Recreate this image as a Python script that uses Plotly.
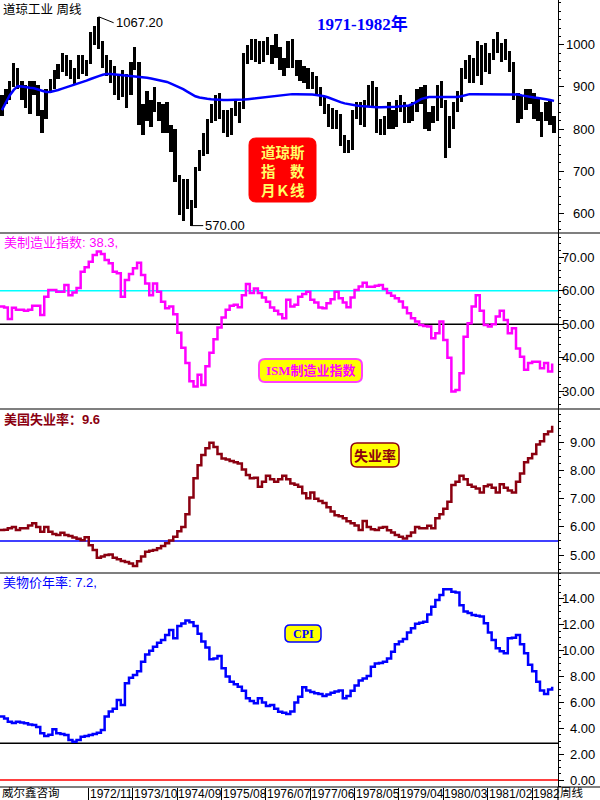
import pandas as pd
import plotly.graph_objects as go
from plotly.subplots import make_subplots

# ---------------- data (monthly, Jan 1971 .. Jun 1982) ----------------
MONTHS = pd.date_range("1971-01-01", periods=138, freq="MS")
X_START, X_END = "1971-01-01", "1982-07-15"

DJ_HIGH = [
    880, 895, 915, 958, 945, 915, 905, 915, 915, 905, 845, 895,
    920, 940, 955, 980, 975, 965, 945, 975, 975, 965, 1030, 1045,
    1067.2, 1010, 975, 965, 950, 930, 940, 930, 960, 995, 960, 860,
    890, 870, 900, 865, 860, 865, 810, 800, 690, 680, 680, 630,
    710, 750, 790, 825, 860, 880, 885, 845, 845, 850, 870, 865,
    980, 1000, 1015, 1015, 1010, 1010, 1020, 1000, 1025, 995, 970, 1010,
    1015, 965, 965, 950, 945, 935, 925, 900, 875, 860, 850, 845,
    835, 785, 775, 845, 865, 865, 870, 905, 915, 900, 825, 830,
    865, 845, 870, 880, 865, 855, 865, 895, 900, 905, 840, 855,
    905, 915, 870, 830, 865, 890, 945, 965, 975, 970, 1010, 1000,
    1005, 980, 1015, 1031, 1005, 1015, 985, 960, 885, 880, 895, 895,
    885, 875, 840, 865, 870, 830,
]
DJ_LOW = [
    830, 860, 870, 900, 895, 870, 850, 835, 880, 830, 790, 825,
    885, 895, 920, 935, 925, 920, 905, 920, 930, 925, 955, 1000,
    990, 945, 925, 910, 880, 870, 875, 850, 880, 940, 810, 785,
    820, 805, 840, 820, 790, 790, 745, 675, 595, 580, 610, 570,
    612, 700, 735, 740, 815, 820, 825, 790, 780, 785, 830, 815,
    848, 955, 965, 960, 955, 960, 975, 955, 970, 940, 925, 945,
    945, 925, 915, 910, 895, 895, 880, 855, 835, 805, 800, 800,
    760, 742, 742, 750, 825, 810, 805, 855, 855, 790, 785, 785,
    800, 800, 805, 840, 815, 815, 820, 840, 860, 800, 795, 815,
    820, 850, 730, 755, 800, 840, 865, 920, 910, 910, 925, 905,
    935, 930, 965, 980, 960, 965, 935, 870, 815, 825, 845, 860,
    825, 820, 780, 820, 810, 790,
]
DJ_MA = [
    845, 865, 880, 893, 902, 901, 899, 898, 897, 894, 890, 888,
    888, 890, 893, 896, 899, 902, 905, 908, 911, 915, 919, 923,
    926, 929, 931, 931, 930, 929, 928, 927, 926, 926, 925, 924,
    922, 920, 918, 917, 915, 912, 908, 904, 900, 895, 889, 883,
    878, 875, 873, 872, 871, 870, 870, 869, 869, 869, 869, 869,
    870, 871, 872, 873, 874, 876, 877, 878, 880, 881, 882, 883,
    883, 883, 883, 883, 882, 882, 881, 880, 878, 875, 871, 867,
    864, 861, 859, 857, 856, 855, 854, 853, 853, 852, 852, 852,
    852, 853, 853, 854, 855, 856, 860, 866, 871, 874, 876, 876,
    876, 876, 876, 876, 876, 876, 878, 881, 883, 883, 883, 883,
    883, 883, 883, 883, 883, 883, 883, 883, 882, 880, 878, 876,
    875, 874, 873, 871, 869, 867,
]
ISM = [
    55.3, 55.0, 51.6, 54.9, 54.3, 54.3, 54.0, 54.3, 55.5, 55.5, 52.8, 58.2,
    60.2, 60.2, 59.7, 59.7, 61.7, 58.7, 59.5, 60.8, 65.7, 67.0, 68.7, 70.7,
    71.7, 71.0, 69.2, 68.2, 65.7, 65.2, 58.2, 63.2, 65.0, 66.7, 68.4, 64.7,
    62.2, 58.7, 62.2, 59.7, 56.7, 54.8, 55.3, 53.0, 47.5, 43.0, 38.4, 33.0,
    31.4, 34.9, 31.9, 37.5, 41.5, 45.5, 49.0, 52.0, 54.3, 55.5, 55.8, 55.1,
    58.7, 62.0, 59.3, 60.7, 59.3, 58.0, 56.7, 55.0, 54.0, 53.0, 51.8, 57.3,
    55.3, 55.8, 58.2, 59.0, 59.7, 57.3, 56.5, 55.0, 54.8, 56.3, 57.5, 59.7,
    57.8, 56.5, 55.1, 58.0, 60.2, 61.3, 62.4, 61.2, 61.2, 61.5, 61.7, 60.5,
    59.3, 58.5, 57.8, 56.8, 55.0, 53.3, 51.8, 50.8, 49.8, 49.5, 49.3, 45.8,
    47.3, 50.8, 45.3, 40.0, 29.9, 30.4, 35.4, 46.3, 50.3, 55.3, 58.7, 54.0,
    49.8, 49.3, 50.0, 52.3, 54.0, 51.3, 47.3, 48.8, 42.8, 40.3, 36.4, 38.4,
    38.8, 38.8, 36.9, 38.4, 35.9, 38.3,
]
UNEMP = [
    5.89, 5.9, 5.95, 6.0, 5.89, 5.95, 5.95, 6.05, 6.13, 6.0, 5.83, 6.0,
    5.83, 5.75, 5.71, 5.79, 5.71, 5.68, 5.62, 5.58, 5.53, 5.63, 5.35, 5.18,
    4.9, 4.95, 5.0, 5.02, 4.9, 4.85, 4.79, 4.75, 4.7, 4.61, 4.78, 4.95,
    5.12, 5.15, 5.18, 5.24, 5.32, 5.42, 5.52, 5.65, 5.85, 6.0, 6.45, 7.05,
    7.73, 8.2, 8.56, 8.8, 9.0, 8.85, 8.6, 8.44, 8.4, 8.35, 8.3, 8.26,
    8.05, 7.85, 7.73, 7.75, 7.43, 7.61, 7.82, 7.7, 7.61, 7.7, 7.82, 7.7,
    7.55, 7.5, 7.43, 7.2, 7.02, 7.23, 7.0, 6.92, 6.85, 6.7, 6.55, 6.42,
    6.38, 6.31, 6.2, 6.13, 6.05, 5.89, 6.21, 6.0, 5.92, 5.89, 5.97, 6.0,
    5.88, 5.8, 5.71, 5.65, 5.59, 5.68, 5.8, 6.0, 5.95, 5.95, 6.04, 5.95,
    6.31, 6.45, 6.65, 6.9, 7.49, 7.61, 7.82, 7.7, 7.5, 7.43, 7.37, 7.23,
    7.45, 7.5, 7.4, 7.23, 7.52, 7.4, 7.3, 7.23, 7.61, 7.9, 8.3, 8.45,
    8.6, 8.94, 9.05, 9.3, 9.4, 9.6,
]
CPI = [
    4.9, 4.75, 4.51, 4.4, 4.51, 4.45, 4.38, 4.3, 4.25, 4.1, 3.61, 3.4,
    3.5, 3.92, 3.61, 3.55, 3.48, 3.09, 2.96, 3.1, 3.35, 3.4, 3.48, 3.55,
    3.66, 3.87, 4.9, 5.3, 5.5, 6.19, 5.8, 7.48, 7.9, 8.12, 8.4, 9.15,
    9.7, 10.0, 10.3, 10.6, 10.83, 11.2, 11.6, 10.96, 11.9, 12.1, 12.32, 12.2,
    11.9, 11.3, 10.7, 10.25, 9.33, 9.4, 9.59, 8.64, 8.0, 7.6, 7.4, 7.2,
    6.9, 6.32, 6.1, 5.93, 6.32, 6.0, 5.72, 5.8, 5.5, 5.28, 5.2, 5.1,
    5.3, 6.0, 6.44, 7.17, 6.91, 6.8, 6.7, 6.65, 6.5, 6.6, 6.75, 6.85,
    6.91, 6.32, 6.5, 6.9, 7.3, 7.7, 7.85, 8.04, 8.76, 9.0, 9.05, 9.15,
    9.4, 9.92, 10.5, 10.7, 10.9, 11.4, 11.73, 12.07, 12.15, 12.24, 12.8, 13.4,
    13.92, 14.3, 14.75, 14.75, 14.55, 14.5, 13.5, 13.02, 12.9, 12.76, 12.7, 12.63,
    12.12, 11.4, 10.83, 10.19, 9.95, 9.8, 10.96, 11.0, 11.21, 10.5, 9.8, 8.9,
    8.4, 7.6, 6.91, 6.65, 7.0, 7.2,
]

ISM_LEVELS = [(60, "#00FFFF"), (50, "#000000")]
UNEMP_LEVELS = [(5.5, "#0000FF")]
CPI_LEVELS = [(2.85, "#000000"), (0, "#FF0000")]

AXIS_LABEL_DATES = ["1972-11-01", "1973-10-01", "1974-09-01", "1975-08-01", "1976-07-01",
                    "1977-06-01", "1978-05-01", "1979-04-01", "1980-03-01", "1981-02-01", "1982-01-01"]
AXIS_LABELS = ["1972/11", "1973/10", "1974/09", "1975/08", "1976/07",
               "1977/06", "1978/05", "1979/04", "1980/03", "1981/02", "1982"]

DJ_TICKS = [600, 700, 800, 900, 1000]
ISM_TICKS = [30, 40, 50, 60, 70]
UNEMP_TICKS = [5, 6, 7, 8, 9]
CPI_TICKS = [0, 2, 4, 6, 8, 10, 12, 14]

# ---------------- helpers ----------------
PLOT_W, PLOT_H = 558, 787
LAT = "Liberation Sans, Arial, sans-serif"
CJK = "Liberation Sans, Noto Sans CJK SC, sans-serif"


def px_x(x):
    return x / PLOT_W


def px_y(y):
    return 1 - y / PLOT_H


MID = MONTHS + pd.Timedelta(days=14)
DJ_RANGE = [h - l for h, l in zip(DJ_HIGH, DJ_LOW)]

fig = make_subplots(rows=4, cols=1, shared_xaxes=True, vertical_spacing=0,
                    row_heights=[233, 176, 164, 214])

# monthly high-low range bars of the Dow
fig.add_trace(go.Bar(x=MID, y=DJ_RANGE, base=DJ_LOW, width=0.82 * 30.4 * 86400000,
                     marker=dict(color="black", line=dict(width=0)),
                     hoverinfo="skip", showlegend=False), row=1, col=1)
fig.add_trace(go.Scatter(x=MID, y=DJ_MA, mode="lines", line=dict(color="#0000FF", width=2.5),
                         hoverinfo="skip", showlegend=False), row=1, col=1)
fig.add_trace(go.Scatter(x=MONTHS, y=ISM, mode="lines",
                         line=dict(color="#FF00FF", width=2.5, shape="hv"),
                         hoverinfo="skip", showlegend=False), row=2, col=1)
fig.add_trace(go.Scatter(x=MONTHS, y=UNEMP, mode="lines",
                         line=dict(color="#8B0010", width=2.5, shape="hv"),
                         hoverinfo="skip", showlegend=False), row=3, col=1)
fig.add_trace(go.Scatter(x=MONTHS, y=CPI, mode="lines",
                         line=dict(color="#0000FF", width=2.5, shape="hv"),
                         hoverinfo="skip", showlegend=False), row=4, col=1)

fig.update_xaxes(range=[X_START, X_END], showgrid=False, zeroline=False, showline=False,
                 ticks="", showticklabels=False, rangeslider_visible=False, fixedrange=True)
fig.update_xaxes(row=4, col=1, tickmode="array", tickvals=AXIS_LABEL_DATES, ticks="outside",
                 ticklen=13, tickwidth=1, tickcolor="black", showticklabels=False)


def ystyle(rng, ticks, mdt, m0):
    return dict(range=rng, side="right", showline=True, linecolor="black", linewidth=1,
                ticks="outside", ticklen=5, tickwidth=1, tickcolor="black",
                tickmode="array", tickvals=ticks, showticklabels=False,
                showgrid=False, zeroline=False, fixedrange=True,
                minor=dict(tickmode="linear", tick0=m0, dtick=mdt, ticks="outside",
                           ticklen=2, tickcolor="black", showgrid=False))


fig.update_yaxes(row=1, col=1, **ystyle([552.4, 1107.1], DJ_TICKS, 20, 0))
fig.update_yaxes(row=2, col=1, **ystyle([24.7, 77.25], ISM_TICKS, 2, 0))
fig.update_yaxes(row=3, col=1, **ystyle([4.36, 10.2], UNEMP_TICKS, 0.25, 0))
fig.update_yaxes(row=4, col=1, **ystyle([-0.54, 16.0], CPI_TICKS, 0.5, 0))

ann = []
# right-aligned tick labels
for yref, ticks, fmt in [("y", DJ_TICKS, "{:.0f}"), ("y2", ISM_TICKS, "{:.2f}"),
                         ("y3", UNEMP_TICKS, "{:.2f}"), ("y4", CPI_TICKS, "{:.2f}")]:
    for v in ticks:
        ann.append(dict(xref="paper", x=px_x(597), xanchor="right", yref=yref, y=v,
                        yanchor="middle", text=fmt.format(v), showarrow=False,
                        font=dict(family=LAT, size=13, color="black")))

# bottom date strip
for d, lab in zip(AXIS_LABEL_DATES, AXIS_LABELS):
    ann.append(dict(xref="x4", x=d, xanchor="left", yref="paper", y=0, yanchor="top",
                    yshift=1, borderpad=0, text=lab, showarrow=False,
                    font=dict(family=LAT, size=12, color="black")))
ann.append(dict(xref="paper", x=px_x(1), xanchor="left", yref="paper", y=0, yanchor="top",
                yshift=2, borderpad=0, text="威尔鑫咨询", showarrow=False,
                font=dict(family=CJK, size=11.5, color="black")))
ann.append(dict(xref="paper", x=px_x(559), xanchor="left", yref="paper", y=0, yanchor="top",
                yshift=2, borderpad=0, text="周线", showarrow=False,
                font=dict(family=CJK, size=11.5, color="black")))


def label(xpx, ypx, s, size, color, family=CJK, xanchor="left", yanchor="top"):
    ann.append(dict(xref="paper", yref="paper", x=px_x(xpx), y=px_y(ypx), xanchor=xanchor,
                    yanchor=yanchor, text=s, showarrow=False,
                    font=dict(family=family, size=size, color=color)))


label(1, 0, "道琼工业 周线", 12.5, "black")
label(315, 12, "<b>1971-1982年</b>", 17, "#0000FF", family="Liberation Serif, Noto Sans CJK SC, serif")
label(2, 233, "美制造业指数: 38.3,", 13, "#FF00FF")
label(2, 410, "<b>美国失业率：9.6</b>", 13, "#8B0010")
label(1, 573, "美物价年率: 7.2,", 13, "#0000FF")

# high / low callouts
i_hi = DJ_HIGH.index(max(DJ_HIGH))
i_lo = DJ_LOW.index(min(DJ_LOW))
ann.append(dict(xref="x", yref="y", x=MID[i_hi], y=DJ_HIGH[i_hi], text=f"{DJ_HIGH[i_hi]:.2f}",
                showarrow=True, arrowhead=0, arrowwidth=1, arrowcolor="black", ax=15, ay=6,
                xanchor="left", font=dict(family=LAT, size=13, color="black")))
ann.append(dict(xref="x", yref="y", x=MID[i_lo], y=DJ_LOW[i_lo], text=f"{DJ_LOW[i_lo]:.2f}",
                showarrow=True, arrowhead=0, arrowwidth=1, arrowcolor="black", ax=12, ay=0,
                xanchor="left", font=dict(family=LAT, size=13, color="black")))


def rounded_box(x0, y0, x1, y1, r, fill, lc, lw):
    X, Y = px_x, px_y
    path = (f"M {X(x0 + r)},{Y(y0)} L {X(x1 - r)},{Y(y0)} Q {X(x1)},{Y(y0)} {X(x1)},{Y(y0 + r)} "
            f"L {X(x1)},{Y(y1 - r)} Q {X(x1)},{Y(y1)} {X(x1 - r)},{Y(y1)} "
            f"L {X(x0 + r)},{Y(y1)} Q {X(x0)},{Y(y1)} {X(x0)},{Y(y1 - r)} "
            f"L {X(x0)},{Y(y0 + r)} Q {X(x0)},{Y(y0)} {X(x0 + r)},{Y(y0)} Z")
    return dict(type="path", xref="paper", yref="paper", path=path, fillcolor=fill,
                line=dict(color=lc, width=lw), layer="above")


shapes = []
# panel separators
for ypx in [233, 409, 573, 787]:
    shapes.append(dict(type="line", xref="paper", yref="paper", x0=0, x1=px_x(600),
                       y0=px_y(ypx), y1=px_y(ypx), line=dict(color="black", width=1.2)))
shapes.append(dict(type="line", xref="paper", yref="paper", x0=1, x1=1, y0=0, y1=px_y(800),
                   line=dict(color="black", width=1.2)))
for yref, levels in [("y2", ISM_LEVELS), ("y3", UNEMP_LEVELS), ("y4", CPI_LEVELS)]:
    for v, c in levels:
        shapes.append(dict(type="line", xref="paper", x0=0, x1=1, yref=yref, y0=v, y1=v,
                           line=dict(color=c, width=1.5), layer="below"))

shapes.append(rounded_box(249, 138, 316, 202, 7, "#FF0000", "#FF0000", 1))
shapes.append(rounded_box(259, 359, 362, 382, 6, "#FFFF00", "#FF40FF", 2))
shapes.append(rounded_box(351, 443, 399, 467, 6, "#FFFF00", "#8B0010", 1.5))
shapes.append(rounded_box(285, 625, 321, 642, 5, "#FFFF00", "#0000FF", 1.5))

ann.append(dict(xref="paper", yref="paper", x=px_x(282.5), y=px_y(170.5), xanchor="center",
                yanchor="middle", text="<b>道琼斯<br>指　数<br>月Ｋ线</b>", showarrow=False,
                borderpad=0, align="center",
                font=dict(family="Noto Sans CJK SC", size=14.5, color="#FFFF66")))
label(310.5, 370.5, "<b>ISM制造业指数</b>", 13, "#FF00FF", family="Liberation Serif, Noto Sans CJK SC",
      xanchor="center", yanchor="middle")
label(375, 455, "<b>失业率</b>", 14, "#8B0010", family="Noto Sans CJK SC", xanchor="center",
      yanchor="middle")
label(303, 633.5, "<b>CPI</b>", 12, "#0000FF", family="Liberation Serif, serif", xanchor="center",
      yanchor="middle")

fig.update_layout(width=600, height=800, autosize=False,
                  margin=dict(l=0, r=42, t=0, b=13, pad=0),
                  paper_bgcolor="white", plot_bgcolor="white", showlegend=False,
                  annotations=ann, shapes=shapes, hovermode=False, bargap=0)

fig.write_html("out.html", config={"displayModeBar": False, "staticPlot": True},
               post_script="document.body.style.margin='0';document.body.style.padding='0';")
